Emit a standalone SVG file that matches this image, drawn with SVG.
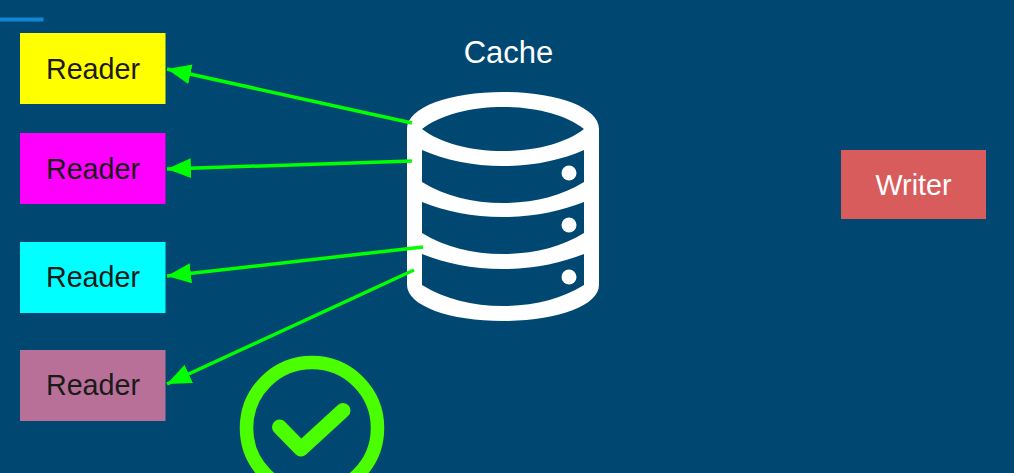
<svg xmlns="http://www.w3.org/2000/svg" width="1014" height="473" viewBox="0 0 1014 473">
<style>
.box{stroke:none}
.t{font-family:"Liberation Sans",Arial,sans-serif;font-size:28.7px;text-anchor:middle}
.d{fill:#1a1a1a}
.w{fill:#fff}
.c{stroke:#00ff00;stroke-width:3.500;fill:none;marker-end:url(#a)}
</style>
<defs>
<marker id="a" markerUnits="userSpaceOnUse" markerWidth="26" markerHeight="22" refX="24" refY="10" orient="auto"><path d="M0 0L24 10L0 20Z" fill="#00ff00"/></marker>
</defs>
<rect width="1014" height="473" fill="#004872"/>
<rect x="0" y="17.500" width="43.500" height="4" fill="#0f86d6"/>
<g id="reader1"><rect class="box" x="20" y="33" width="145.500" height="71" fill="#ffff00"/><text class="t d" x="93" y="79">Reader</text></g>
<g id="reader2"><rect class="box" x="20" y="133" width="145.500" height="71" fill="#ff00ff"/><text class="t d" x="93" y="179">Reader</text></g>
<g id="reader3"><rect class="box" x="20" y="242" width="145.500" height="71" fill="#00ffff"/><text class="t d" x="93" y="287">Reader</text></g>
<g id="reader4"><rect class="box" x="20" y="350" width="145.500" height="71" fill="#b87099"/><text class="t d" x="93" y="395">Reader</text></g>
<g id="writer"><rect class="box" x="841" y="150" width="145" height="69" fill="#d95c5c"/><text class="t w" x="913.500" y="195">Writer</text></g>
<g id="cache">
<text class="t w" x="508.500" y="63" style="font-size:31px">Cache</text>
<path fill="#fff" fill-rule="evenodd" d="M407 129C407 107 450 92 503 92C556 92 599 107 599 129V285C599 306 556 321 503 321C450 321 407 306 407 285Z
M422 129C440 115 470 107 503 107C536 107 566 115 584 129C566 143 536 151 503 151C470 151 440 143 422 129Z
M422 150C445 160 472 166 503 166C534 166 561 160 584 150V182C561 196 534 203 503 203C472 203 445 196 422 182Z
M422 202C445 211 472 217 503 217C534 217 561 211 584 202V233C561 247 534 254 503 254C472 254 445 247 422 233Z
M422 254C445 263 472 269 503 269C534 269 561 263 584 254V285C561 299 534 306 503 306C472 306 445 299 422 285Z"/>
<g fill="#fff"><circle cx="569" cy="173" r="7.500"/><circle cx="569" cy="225" r="7.500"/><circle cx="569" cy="277" r="7.500"/></g>
</g>
<g id="connectors">
<path class="c" d="M412 123L167 69"/>
<path class="c" d="M412 161L167 169"/>
<path class="c" d="M423 247L167 276"/>
<path class="c" d="M414 270L167 384"/>
</g>
<g id="check" fill="none" stroke="#4cff00" stroke-linecap="round" stroke-linejoin="round">
<circle cx="312" cy="428" r="65.500" stroke-width="13.500"/>
<path d="M279.500 427L301 449L343 410.500" stroke-width="15"/>
</g>
</svg>
